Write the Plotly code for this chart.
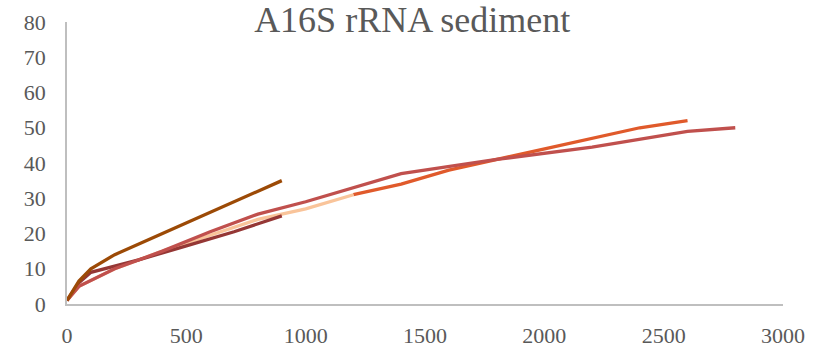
import plotly.graph_objects as go

# Series data (x = reads / sample size, y = observed OTUs)
brown_x = [0, 50, 100, 200, 400, 600, 800, 900]
brown_y = [1, 6.5, 10, 14, 20, 26, 32, 35]

darkred_x = [0, 50, 100, 300, 500, 700, 900]
darkred_y = [1, 6, 9, 12.5, 16.5, 20.5, 25]

peach_x = [0, 50, 200, 400, 600, 800, 1000, 1200]
peach_y = [1, 5, 10, 15, 19.5, 24, 27, 31]

orange_x = [1200, 1400, 1600, 1800, 2000, 2200, 2400, 2600]
orange_y = [31, 34, 38, 41, 44, 47, 50, 52]

salmon_x = [0, 50, 200, 400, 600, 800, 1000, 1400, 1800, 2200, 2600, 2800]
salmon_y = [1, 5, 10, 15, 20.5, 25.5, 29, 37, 41, 44.5, 49, 50]

x_ticks = [0, 500, 1000, 1500, 2000, 2500, 3000]
y_ticks = [0, 10, 20, 30, 40, 50, 60, 70, 80]

title_text = "A16S rRNA sediment"

fig = go.Figure()

def add(x, y, color):
    fig.add_trace(go.Scatter(
        x=x, y=y, mode="lines",
        line=dict(color=color, width=3.3),
        hoverinfo="skip", showlegend=False,
    ))

add(orange_x, orange_y, "#E05A2B")
add(peach_x, peach_y, "#F9C49A")
add(darkred_x, darkred_y, "#953735")
add(salmon_x, salmon_y, "#C0504D")
add(brown_x, brown_y, "#9C4A06")

font_family = "Liberation Serif"
gray = "#595959"

fig.update_layout(
    width=836, height=348,
    margin=dict(l=67, r=53, t=22, b=44),
    paper_bgcolor="white", plot_bgcolor="white",
    title=dict(
        text=title_text,
        font=dict(family=font_family, size=36, color=gray),
        x=0.493, xanchor="center",
        y=0.945, yanchor="middle", yref="container",
    ),
    xaxis=dict(
        range=[0, 3000], tickvals=x_ticks, ticktext=[str(v) for v in x_ticks],
        showgrid=False, zeroline=False, automargin=False,
        showline=True, linecolor="#BFBFBF", linewidth=1.5,
        ticks="outside", ticklen=11, tickcolor="rgba(0,0,0,0)",
        tickfont=dict(family=font_family, size=22, color=gray),
    ),
    yaxis=dict(
        range=[0, 80], tickvals=y_ticks, ticktext=[str(v) for v in y_ticks],
        showgrid=False, zeroline=False, automargin=False,
        showline=True, linecolor="#BFBFBF", linewidth=1.5,
        ticks="outside", ticklen=15, tickcolor="rgba(0,0,0,0)",
        tickfont=dict(family=font_family, size=22, color=gray),
    ),
)

fig.write_html(
    "out.html",
    config={"displayModeBar": False},
    post_script="document.body.style.margin='0';document.body.style.padding='0';",
)
